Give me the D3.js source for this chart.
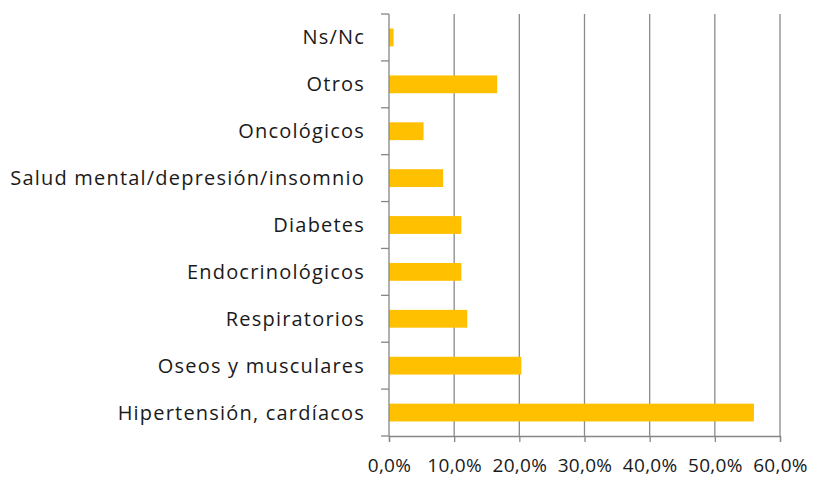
<!DOCTYPE html>
<html>
<head>
<meta charset="utf-8">
<script src="https://cdn.jsdelivr.net/npm/d3@7"></script>
<style>
  body { margin: 0; background: #fff; }
  text { font-family: "Open Sans", sans-serif; fill: #1a1a1a; }
</style>
</head>
<body>
<svg class="chart" width="815" height="480"></svg>
<script>
// Categories, top to bottom
const categories = [
  "Ns/Nc",
  "Otros",
  "Oncológicos",
  "Salud mental/depresión/insomnio",
  "Diabetes",
  "Endocrinológicos",
  "Respiratorios",
  "Oseos y musculares",
  "Hipertensión, cardíacos"
];
// Percentage values
const values = [0.7, 16.6, 5.3, 8.3, 11.1, 11.1, 12.0, 20.3, 56.0];
const xTicks = [0, 10, 20, 30, 40, 50, 60];

const data = categories.map(function (c, i) {
  return { cat: c, val: values[i] };
});

// Set the dimensions and margins of the graph
const margin = { top: 14, right: 35, bottom: 44, left: 389 },
  width = 815 - margin.left - margin.right,
  height = 480 - margin.top - margin.bottom;

const svg = d3
  .select(".chart")
  .append("g")
  .attr("transform", "translate(" + margin.left + "," + margin.top + ")");

// Set the ranges
const x = d3.scaleLinear().domain([0, 60]).range([0, width]);
const y = d3.scaleBand().domain(categories).range([0, height]).paddingInner(0.62).paddingOuter(0.31);
const yEdge = d3.scaleLinear().domain([0, categories.length]).range([0, height]);

// Gridlines
svg
  .selectAll(".grid")
  .data(xTicks.slice(1))
  .enter()
  .append("line")
  .attr("x1", function (d) { return x(d); })
  .attr("x2", function (d) { return x(d); })
  .attr("y1", 0)
  .attr("y2", height)
  .attr("stroke", "#8a8a8a")
  .attr("stroke-width", 1.3);

// Bars
svg
  .selectAll(".bar")
  .data(data)
  .enter()
  .append("rect")
  .attr("x", x(0))
  .attr("y", function (d) { return y(d.cat); })
  .attr("width", function (d) { return x(d.val) - x(0); })
  .attr("height", y.bandwidth())
  .attr("fill", "#FFC000");

// X axis
const xAxis = svg
  .append("g")
  .attr("transform", "translate(0," + height + ")")
  .call(
    d3.axisBottom(x)
      .tickValues(xTicks)
      .tickSize(6)
      .tickPadding(17)
      .tickFormat(function (d) { return d.toFixed(1).replace(".", ",") + "%"; })
  );
xAxis.selectAll("text")
  .style("font-size", "19px")
  .style("letter-spacing", "0.3px")
  .style("fill", "#1a1a1a");

// Y axis: ticks on band edges, labels centred on bands
const yAxis = svg.append("g");
yAxis
  .append("line")
  .attr("x1", 0).attr("x2", 0)
  .attr("y1", 0).attr("y2", height)
  .attr("stroke", "#868686").attr("stroke-width", 1.3);
yAxis
  .selectAll(".ytick")
  .data(d3.range(categories.length + 1))
  .enter()
  .append("line")
  .attr("x1", -8).attr("x2", 0)
  .attr("y1", function (d) { return yEdge(d); })
  .attr("y2", function (d) { return yEdge(d); })
  .attr("stroke", "#868686").attr("stroke-width", 1.3);
yAxis
  .selectAll(".ylab")
  .data(categories)
  .enter()
  .append("text")
  .attr("x", -24)
  .attr("y", function (d) { return y(d) + y.bandwidth() / 2; })
  .attr("dy", "0.35em")
  .style("text-anchor", "end")
  .style("font-size", "20px")
  .style("letter-spacing", "1.2px")
  .text(function (d) { return d; });

xAxis.select(".domain").attr("stroke", "#868686").attr("stroke-width", 1.3);
xAxis.selectAll(".tick line").attr("stroke", "#868686").attr("stroke-width", 1.3);
</script>
</body>
</html>
